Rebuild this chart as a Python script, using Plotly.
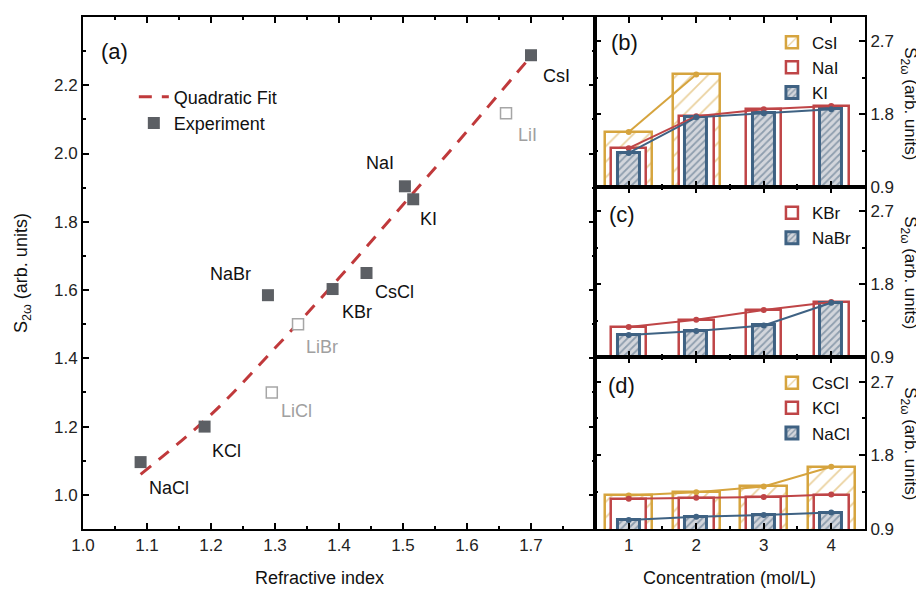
import plotly.graph_objects as go

# ---------------- data: panel (a) ----------------
exp_names = ["NaCl", "KCl", "NaBr", "KBr", "CsCl", "NaI", "KI", "CsI"]
exp_n = [1.09, 1.19, 1.289, 1.39, 1.443, 1.503, 1.516, 1.70]
exp_s = [1.096, 1.20, 1.585, 1.603, 1.65, 1.904, 1.866, 2.288]

li_names = ["LiCl", "LiBr", "LiI"]
li_n = [1.295, 1.336, 1.661]
li_s = [1.30, 1.50, 2.118]

fit_n = [1.09, 1.2, 1.3, 1.4, 1.5, 1.6, 1.7]
fit_s = [1.06, 1.235, 1.43, 1.635, 1.85, 2.065, 2.285]

x_ticks_a = [1.0, 1.1, 1.2, 1.3, 1.4, 1.5, 1.6, 1.7]
y_ticks_a = [1.0, 1.2, 1.4, 1.6, 1.8, 2.0, 2.2, 2.4]

# ---------------- data: panels (b)-(d) ----------------
conc = [1, 2, 3, 4]
conc_csi = [1, 2]
csi = [1.58, 2.29]
nai = [1.38, 1.775, 1.86, 1.90]
ki = [1.32, 1.76, 1.81, 1.86]
kbr = [1.27, 1.36, 1.48, 1.58]
nabr = [1.17, 1.22, 1.29, 1.57]
cscl = [1.31, 1.35, 1.42, 1.66]
kcl = [1.27, 1.28, 1.29, 1.32]
nacl = [1.01, 1.05, 1.07, 1.10]
y_ticks_r = [0.9, 1.8, 2.7]

# ---------------- styles ----------------
FONT = "Liberation Sans, Arial, sans-serif"
YEL = "#D6A43E"
RED = "#BF4547"
BLU = "#3F6283"
GRAY = "#5c5f64"
LIGHT = "#a6a6a6"

fig = go.Figure()

# panel (a)
fig.add_trace(go.Scatter(x=fit_n, y=fit_s, mode="lines", name="Quadratic Fit",
                         line=dict(color="#C0393B", width=3, dash="13px,10px", shape="spline"),
                         legend="legend"))
fig.add_trace(go.Scatter(x=exp_n, y=exp_s, mode="markers", name="Experiment",
                         marker=dict(symbol="square", size=12, color=GRAY),
                         legend="legend"))
fig.add_trace(go.Scatter(x=li_n, y=li_s, mode="markers", showlegend=False,
                         marker=dict(symbol="square", size=11, color="white",
                                     line=dict(color=LIGHT, width=1.5))))

def bar(xv, yv, name, kind, ax, leg):
    if kind == "yellow":
        m = dict(color="white", line=dict(color=YEL, width=2.5),
                 pattern=dict(shape="/", fgcolor=YEL, bgcolor="white", size=11, solidity=0.16))
        w = 0.70
    elif kind == "red":
        m = dict(color="white", line=dict(color=RED, width=2.5))
        w = 0.52
    else:
        m = dict(color="#d3d6dc", line=dict(color=BLU, width=3),
                 pattern=dict(shape="/", fgcolor="#4a6580", bgcolor="#d3d6dc", size=5, solidity=0.35))
        w = 0.33
    return go.Bar(x=xv, y=yv, name=name, width=w, marker=m,
                  xaxis="x" + ax, yaxis="y" + ax, legend=leg)

def line(xv, yv, color, ax):
    return go.Scatter(x=xv, y=yv, mode="lines+markers", showlegend=False,
                      line=dict(color=color, width=2), marker=dict(color=color, size=6),
                      xaxis="x" + ax, yaxis="y" + ax)

# panel (b)
fig.add_trace(bar(conc_csi, csi, "CsI", "yellow", "2", "legend2"))
fig.add_trace(bar(conc, nai, "NaI", "red", "2", "legend2"))
fig.add_trace(bar(conc, ki, "KI", "blue", "2", "legend2"))
fig.add_trace(line(conc_csi, csi, YEL, "2"))
fig.add_trace(line(conc, nai, RED, "2"))
fig.add_trace(line(conc, ki, BLU, "2"))
# panel (c)
fig.add_trace(bar(conc, kbr, "KBr", "red", "3", "legend3"))
fig.add_trace(bar(conc, nabr, "NaBr", "blue", "3", "legend3"))
fig.add_trace(line(conc, kbr, RED, "3"))
fig.add_trace(line(conc, nabr, BLU, "3"))
# panel (d)
fig.add_trace(bar(conc, cscl, "CsCl", "yellow", "4", "legend4"))
fig.add_trace(bar(conc, kcl, "KCl", "red", "4", "legend4"))
fig.add_trace(bar(conc, nacl, "NaCl", "blue", "4", "legend4"))
fig.add_trace(line(conc, cscl, YEL, "4"))
fig.add_trace(line(conc, kcl, RED, "4"))
fig.add_trace(line(conc, nacl, BLU, "4"))

# point labels (offsets in pixels)
exp_off = {"NaCl": (28, -26), "KCl": (22, -24), "NaBr": (-37, 21), "KBr": (24, -23),
           "CsCl": (28, -19), "NaI": (-25, 23), "KI": (15, -20), "CsI": (26, -21)}
li_off = {"LiCl": (25, -19), "LiBr": (24, -23), "LiI": (21, -22)}
LBL = 18
ann = []
for nm, xv, yv in zip(exp_names, exp_n, exp_s):
    dx, dy = exp_off[nm]
    ann.append(dict(x=xv, y=yv, xref="x", yref="y", text=nm, showarrow=False,
                    xanchor="center", yanchor="middle",
                    xshift=dx, yshift=dy, font=dict(size=LBL, color="#111")))
for nm, xv, yv in zip(li_names, li_n, li_s):
    dx, dy = li_off[nm]
    ann.append(dict(x=xv, y=yv, xref="x", yref="y", text=nm, showarrow=False,
                    xanchor="center", yanchor="middle",
                    xshift=dx, yshift=dy, font=dict(size=LBL, color="#a0a0a0")))

def pann(txt, px, py, size, angle=0):
    return dict(x=px, y=py, xref="paper", yref="paper", text=txt, showarrow=False,
                xanchor="center", yanchor="middle", textangle=angle,
                font=dict(size=size, color="#111"))

for txt, px, py in [("(a)", 0.040, 0.932), ("(b)", 0.693, 0.950), ("(c)", 0.689, 0.615), ("(d)", 0.688, 0.281)]:
    ann.append(pann(txt, px, py, 22))

ann.append(pann("S<sub>2ω</sub> (arb. units)", -0.078, 0.5, 18, -90))
for py in [0.830, 0.500, 0.166]:
    ann.append(pann("S<sub>2ω</sub> (arb. units)", 1.056, py, 17, 90))
ann.append(pann("Refractive index", 0.302, -0.096, 18))
ann.append(pann("Concentration (mol/L)", 0.827, -0.096, 18))

axis_common = dict(showline=True, linecolor="black", linewidth=2, mirror="ticks",
                   ticks="inside", ticklen=6, tickwidth=2, tickcolor="black", automargin=False,
                   showgrid=False, zeroline=False, tickfont=dict(size=17, color="#222"))

DA = 0.6547
LEGFONT = dict(size=18, color="#111")
RLEGFONT = dict(size=17, color="#111")
# the page body adds an 8px offset; the figure is sized/margined to compensate
layout = dict(
    width=916, height=587, font=dict(family=FONT, color="#111"),
    paper_bgcolor="white", plot_bgcolor="white",
    margin=dict(l=75, r=59, t=9, b=66, autoexpand=False),
    barmode="overlay", bargap=0,
    annotations=ann,
    xaxis=dict(domain=[0, DA], range=[1.0, 1.8], tickmode="array", tickvals=x_ticks_a,
               ticktext=[f"{v:.1f}" for v in x_ticks_a],
               minor=dict(dtick=0.05, tick0=1.0, ticks="inside", ticklen=3, tickwidth=2, tickcolor="black"),
               anchor="y", **axis_common),
    yaxis=dict(domain=[0, 1], range=[0.9, 2.4], tickmode="array", tickvals=y_ticks_a,
               ticktext=[f"{v:.1f}" for v in y_ticks_a],
               minor=dict(dtick=0.1, tick0=0.9, ticks="inside", ticklen=3, tickwidth=2, tickcolor="black"),
               anchor="x", **axis_common),
    legend=dict(x=0.065, y=0.880, xanchor="left", yanchor="top", bgcolor="rgba(0,0,0,0)",
                font=LEGFONT, itemwidth=30, tracegroupgap=0),
    legend2=dict(x=0.881, y=0.985, xanchor="left", yanchor="top", bgcolor="rgba(0,0,0,0)",
                 font=RLEGFONT, itemwidth=30),
    legend3=dict(x=0.881, y=0.652, xanchor="left", yanchor="top", bgcolor="rgba(0,0,0,0)",
                 font=RLEGFONT, itemwidth=30),
    legend4=dict(x=0.881, y=0.320, xanchor="left", yanchor="top", bgcolor="rgba(0,0,0,0)",
                 font=RLEGFONT, itemwidth=30),
)

doms = {"2": [0.668, 1.0], "3": [0.336, 0.668], "4": [0.0, 0.336]}
for k, dom in doms.items():
    layout["xaxis" + k] = dict(domain=[DA, 1.0], range=[0.5, 4.5], tickmode="array", tickvals=conc,
                               showticklabels=(k == "4"), anchor="y" + k,
                               minor=dict(dtick=0.5, tick0=0.5, ticks="inside", ticklen=3, tickwidth=2, tickcolor="black"),
                               **axis_common)
    layout["yaxis" + k] = dict(domain=dom, range=[0.9, 3.0], tickmode="array", tickvals=y_ticks_r,
                               ticktext=[f"{v:.1f}" for v in y_ticks_r], side="right",
                               anchor="x" + k,
                               minor=dict(dtick=0.45, tick0=0.9, ticks="inside", ticklen=3, tickwidth=2, tickcolor="black"),
                               **axis_common)

fig.update_layout(**layout)
fig.write_html("out.html")
